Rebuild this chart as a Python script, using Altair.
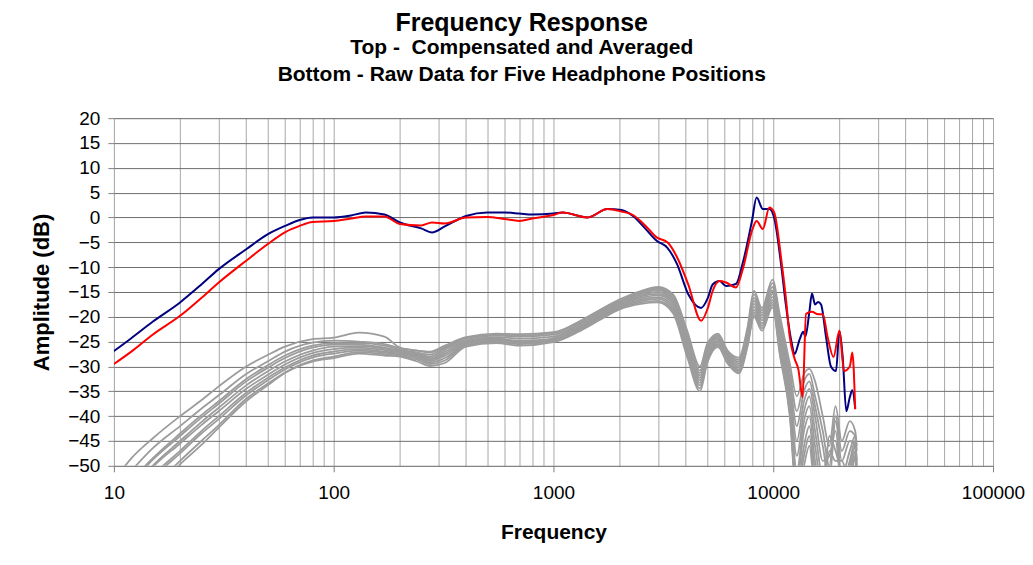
import altair as alt
import pandas as pd

FONT = "Liberation Sans"

# ---------------- compensated & averaged (blue) ----------------
BLUE_FREQ = [10, 12, 15, 20, 25, 30, 40, 50, 60, 70, 80, 100, 120, 140, 170, 200, 250, 280, 320,
             400, 500, 600, 700, 800, 1000, 1100, 1430, 1760, 2040, 2300, 2600, 2950, 3300, 3650,
             4100, 4700, 5040, 5300, 5700, 6100, 6760, 7300, 8000, 8400, 8970, 9600, 10100, 10900,
             11400, 12100, 12500, 13200, 13700, 14000, 14600, 15000, 15500, 16000, 16500, 17400,
             18300, 19300, 20000, 20700, 21500, 22300, 22900, 23600]
BLUE_DB = [-26.9, -24.3, -21.0, -17.1, -13.5, -10.4, -6.4, -3.4, -1.7, -0.5, 0.0, 0.0, 0.4, 1.0, 0.6,
           -1.0, -2.2, -3.0, -1.8, 0.3, 1.0, 1.0, 0.8, 0.6, 0.8, 1.0, 0.0, 1.7, 1.5, 0.3, -2.1, -4.7,
           -6.1, -9.4, -15.4, -18.2, -16.2, -13.5, -12.8, -13.8, -13.4, -8.8, -0.7, 4.0, 1.7, 1.7,
           -0.1, -10.1, -17.4, -25.0, -27.5, -24.5, -23.0, -24.0, -19.0, -15.3, -17.5, -17.0, -17.5,
           -24.2, -30.0, -30.9, -22.8, -28.1, -39.0, -36.2, -34.8, -38.5]

# ---------------- compensated & averaged (red) ----------------
RED_FREQ = [10, 12, 15, 20, 25, 30, 40, 50, 60, 70, 80, 100, 120, 140, 170, 200, 250, 280, 320,
            400, 500, 600, 700, 800, 1000, 1100, 1430, 1760, 2040, 2300, 2600, 2950, 3300, 3650,
            4100, 4700, 5040, 5300, 5700, 6100, 6760, 7300, 8000, 8400, 8970, 9600, 10100, 10900,
            11400, 11900, 12500, 13000, 13600, 14100, 15000, 16000, 16800, 17700, 18800, 20000,
            21000, 22300, 22900, 23600]
RED_DB = [-29.5, -27.0, -23.6, -19.8, -16.2, -13.1, -8.7, -5.4, -3.0, -1.7, -0.9, -0.7, -0.2, 0.2,
          0.2, -1.3, -1.6, -1.0, -1.2, 0.0, 0.1, -0.3, -0.7, -0.2, 0.5, 1.0, 0.0, 1.7, 1.2, 0.5,
          -1.5, -4.0, -5.0, -8.0, -13.4, -20.8, -18.2, -14.8, -12.8, -13.1, -14.1, -10.1, -2.7,
          -0.7, -2.3, 2.0, 1.0, -8.8, -16.0, -24.2, -28.4, -30.5, -36.2, -19.4, -19.0, -19.5,
          -19.5, -24.2, -28.1, -22.8, -30.9, -30.0, -27.2, -38.6]

# ---------------- raw data, five positions x two ears (gray) ----------------
GRAY_FREQ = [10, 12, 15, 20, 25, 30, 40, 50, 60, 80, 100, 130, 170, 200, 240, 275, 320, 400, 550,
             700, 1000, 1300, 1600, 2000, 2500, 3000, 3500, 4060, 4640, 5000, 5600, 6200, 6970,
             7630, 8170, 8880, 9920, 10700, 11900, 12800, 13800, 14600, 15500, 16800, 18000,
             19200, 20500, 22300, 23600, 24000]
GRAY_1 = [-53, -48.5, -44.5, -40, -36.8, -34, -30, -27.7, -26, -24.5, -24.2,
          -23.2, -24.0, -26.2, -26.8, -27.2, -26.0, -24.3, -23.6, -23.8, -23.3,
          -21.0, -18.8, -16.5, -14.8, -14.0, -15.5,
          -22.8, -30.0, -25.5, -23.4, -26.8, -28.2, -22.2, -14.8, -18.2, -12.5, -19.5, -29.5,
          -36, -31.5, -30.5, -33, -40, -46, -38, -45, -41, -43, -46]
GRAY_2 = [-55, -51, -46.5, -42, -38.5, -35.8, -31.5, -29, -27, -25.2, -24.8,
          -25.0, -25.5, -26.3, -26.8, -27.0, -25.8, -24.1, -23.4, -23.5, -23.1,
          -21.2, -19.0, -16.8, -15.0, -14.3, -15.8,
          -23.5, -30.8, -26.0, -23.7, -27.1, -28.6, -22.8, -15.5, -18.7, -13.2, -20.5, -31,
          -39, -33, -31.5, -36, -43, -50, -40, -47, -43, -44, -47]
GRAY_3 = [-57, -53, -48.5, -43.5, -39.8, -37, -32.5, -29.8, -27.8, -25.8, -25.3,
          -25.3, -25.8, -26.6, -27.2, -27.6, -26.3, -24.6, -23.8, -24.0, -23.6,
          -21.5, -19.3, -17.0, -15.3, -14.6, -16.2,
          -24.2, -31.3, -26.5, -24.0, -27.4, -29.0, -23.3, -16.2, -19.2, -14.0, -21.5, -32.5,
          -42, -35, -33, -38, -46, -53, -41, -49, -45, -46, -49]
GRAY_4 = [-57.5, -53.5, -48.8, -44, -40.3, -37.5, -33, -30.3, -28.3, -26.2, -25.6,
          -25.6, -26.2, -26.8, -27.4, -28.0, -26.6, -24.9, -24.1, -24.4, -24.0,
          -21.7, -19.5, -17.2, -15.6, -15.0, -16.6,
          -24.8, -31.8, -27.0, -24.3, -27.7, -29.4, -23.8, -16.8, -19.7, -14.7, -22.5, -34,
          -45, -37, -34.5, -40, -49, -48, -43, -52, -47, -44, -50]
GRAY_5 = [-59, -55, -50, -45, -41.2, -38.3, -33.8, -31, -29, -26.8, -26,
          -25.9, -26.4, -27.0, -27.6, -28.3, -27.0, -25.1, -24.3, -25.2, -24.3,
          -22.0, -19.8, -17.5, -15.9, -15.4, -17.0,
          -25.4, -32.3, -27.5, -24.6, -28.0, -29.8, -24.3, -17.4, -20.2, -15.4, -23.5, -35.5,
          -48, -39, -36, -43, -52, -45, -45, -54, -49, -45, -52]
GRAY_6 = [-59.5, -55.5, -50.3, -45.5, -41.8, -39, -34.5, -31.7, -29.6, -27.3, -26.5,
          -26.2, -26.7, -27.2, -27.8, -28.6, -27.4, -25.3, -24.5, -24.8, -24.5,
          -22.2, -20.0, -17.7, -16.2, -15.7, -17.4,
          -26.0, -32.8, -28.0, -24.9, -28.3, -30.2, -24.7, -18.0, -20.7, -16.0, -24.5, -37,
          -51, -41, -38, -46, -55, -44, -47, -51, -51, -47, -53]
GRAY_7 = [-61, -57, -52, -47, -43, -40, -35.3, -32.3, -30.2, -27.8, -27,
          -26.5, -27.0, -27.4, -28.0, -28.9, -27.8, -25.5, -24.7, -25.0, -24.7,
          -22.4, -20.2, -17.9, -16.5, -16.1, -17.8,
          -26.6, -33.3, -28.5, -25.2, -28.6, -30.6, -25.1, -18.6, -21.3, -16.6, -25.5, -38,
          -53, -43, -40, -49, -56, -47, -49, -49, -53, -48, -54]
GRAY_8 = [-61.5, -57.5, -52.5, -47.5, -43.5, -40.6, -35.8, -32.8, -30.6, -28.2, -27.4,
          -26.8, -27.2, -27.6, -28.3, -29.2, -28.3, -25.7, -24.9, -25.3, -24.9,
          -22.6, -20.4, -18.1, -16.8, -16.4, -18.3,
          -27.1, -33.8, -28.9, -25.5, -28.9, -30.9, -25.5, -19.1, -21.8, -17.1, -26.3, -39,
          -55, -46, -42, -51, -54, -50, -51, -53, -50, -46, -52]
GRAY_9 = [-63, -59, -54.5, -49, -45, -41.8, -36.5, -33.5, -31.2, -28.8, -28.0,
          -27.1, -27.5, -27.8, -28.6, -29.5, -28.8, -25.8, -25.1, -25.5, -25.0,
          -22.8, -20.6, -18.3, -17.1, -16.8, -18.8,
          -27.6, -34.4, -29.2, -25.8, -29.1, -31.2, -25.8, -19.6, -22.3, -17.6, -27.0, -39.5,
          -56, -48, -44, -53, -53, -52, -53, -52, -54, -48, -53]
GRAY_10 = [-63.5, -59.5, -55, -49.7, -45.8, -42.3, -37, -33.8, -31.3, -29, -28.3,
           -27.4, -27.8, -28.0, -29.0, -29.9, -29.3, -26.0, -25.3, -25.8, -25.1,
           -23.0, -20.8, -18.5, -17.4, -17.1, -19.3,
           -28.1, -35.0, -29.4, -26.1, -29.4, -31.4, -26.1, -20.0, -22.8, -18.1, -27.5, -40.1,
           -57, -50, -46, -55, -55, -54, -55, -55, -56, -50, -55]
GRAY = [GRAY_1, GRAY_2, GRAY_3, GRAY_4, GRAY_5, GRAY_6, GRAY_7, GRAY_8, GRAY_9, GRAY_10]

# ---------------- axis ticks ----------------
X_DECADES = [10, 100, 1000, 10000, 100000]
X_GRID = [m * d for d in [10, 100, 1000, 10000] for m in range(1, 10)] + [100000]
Y_TICKS = list(range(-50, 25, 5))

# ---------------- build tables ----------------
gray_rows = []
for i, vals in enumerate(GRAY):
    for f, v in zip(GRAY_FREQ, vals):
        gray_rows.append({"freq": f, "db": v, "series": f"Raw {i + 1}"})
gray_df = pd.DataFrame(gray_rows)
blue_df = pd.DataFrame({"freq": BLUE_FREQ, "db": BLUE_DB})
red_df = pd.DataFrame({"freq": RED_FREQ, "db": RED_DB})

dec_test = "indexof([10,100,1000,10000,100000], datum.value) >= 0"

x_enc = alt.X(
    "freq:Q",
    scale=alt.Scale(type="log", domain=[10, 100000], nice=False),
    axis=alt.Axis(
        values=X_GRID,
        format="d",
        labelExpr=f"{dec_test} ? datum.label : ''",
        labelOverlap=False,
        labelFlush=False,
        grid=True,
        gridColor="#a8a8a8",
        gridWidth=1,
        domain=False,
        tickColor={"condition": {"test": dec_test, "value": "#808080"}, "value": "transparent"},
        tickSize=6,
        labelPadding=12,
        labelFontSize=19,
        labelFont=FONT,
        labelColor="black",
        title="Frequency",
        titleFont=FONT,
        titleFontSize=21,
        titleFontWeight="bold",
        titleColor="black",
        titlePadding=19,
    ),
)
y_enc = alt.Y(
    "db:Q",
    scale=alt.Scale(domain=[-50, 20], nice=False),
    axis=alt.Axis(
        values=Y_TICKS,
        labelOverlap=False,
        grid=True,
        gridColor="#6e6e6e",
        gridWidth=1,
        domain=False,
        tickColor="#808080",
        tickSize=6,
        labelPadding=8,
        labelFontSize=19,
        labelFont=FONT,
        labelColor="black",
        title="Amplitude (dB)",
        titleFont=FONT,
        titleFontSize=22,
        titleFontWeight="bold",
        titleColor="black",
        titlePadding=14,
    ),
)

gray = alt.Chart(gray_df).mark_line(
    color="#9c9c9c", strokeWidth=1.8, clip=True, interpolate="monotone"
).encode(x=x_enc, y=y_enc, detail="series:N")
blue = alt.Chart(blue_df).mark_line(
    color="#000080", strokeWidth=2, clip=True, interpolate="monotone"
).encode(x=x_enc, y=y_enc)
red = alt.Chart(red_df).mark_line(
    color="#ff0000", strokeWidth=2, clip=True, interpolate="monotone"
).encode(x=x_enc, y=y_enc)

chart = (
    alt.layer(gray, blue, red)
    .properties(
        width=880,
        height=348,
        padding={"left": 22, "top": 3, "right": 0, "bottom": 5},
        title=alt.TitleParams(
            text="Frequency Response",
            subtitle=["Top - \u00a0Compensated and Averaged",
                      "Bottom - Raw Data for Five Headphone Positions"],
            font=FONT,
            fontSize=25,
            fontWeight="bold",
            color="black",
            subtitleFont=FONT,
            subtitleFontSize=21,
            subtitleFontWeight="bold",
            subtitleColor="black",
            subtitlePadding=1,
            subtitleLineHeight=27,
            anchor="middle",
            frame="bounds",
            dx=-6,
            offset=24,
        ),
    )
    .configure_view(stroke="black", strokeWidth=3.5)
    .configure(background="white")
)

chart.save("out.html", embed_options={"renderer": "svg", "actions": False})
